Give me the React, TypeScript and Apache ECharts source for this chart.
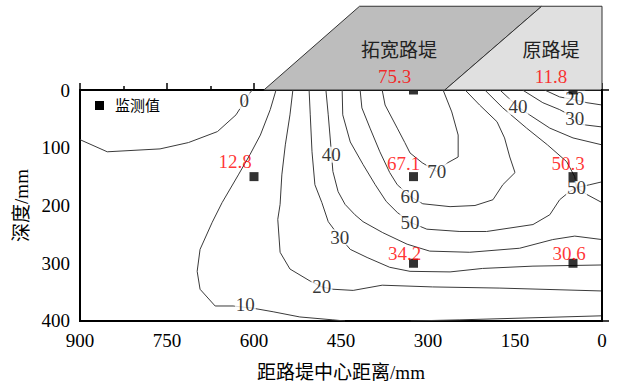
import React, { useEffect, useRef } from "react";
import * as echarts from "echarts";

// ---- data (x = distance from embankment centre /mm, y = depth /mm) ----
const pointX = [325, 50, 600, 325, 50, 325, 50];
const pointDepth = [0, 0, 150, 150, 150, 300, 300];
const pointValue = [75.3, 11.8, 12.8, 67.1, 50.3, 34.2, 30.6];

const contour0 = [[900, 86], [853, 107], [762, 102], [713, 91], [663, 72], [631, 43], [607, 5], [603, 0]];
const contour10a = [[562, 0], [572, 34], [589, 78], [607, 112], [627, 147], [655, 195], [672, 229], [693, 276], [698, 314], [693, 345], [667, 374], [636, 374], [601, 378], [567, 384], [521, 393], [464, 398], [443, 400]];
const contour10b = [[330, 400], [245, 398], [0, 391]];
const contour20a = [[533, 0], [538, 43], [546, 95], [552, 147], [555, 198], [559, 224], [555, 281], [538, 310], [503, 331], [483, 341], [464, 345], [429, 347], [379, 338], [292, 341], [176, 343], [0, 348]];
const contour20b = [[99, 0], [73, 12], [47, 17], [26, 22], [0, 26]];
const contour30a = [[505, 0], [503, 43], [500, 107], [495, 164], [483, 195], [472, 228], [452, 255], [434, 276], [405, 290], [366, 307], [331, 314], [262, 315], [206, 309], [119, 305], [0, 303]];
const contour30b = [[137, 0], [102, 22], [73, 34], [47, 48], [33, 60], [0, 64]];
const contour40a = [[476, 0], [472, 43], [467, 103], [464, 141], [455, 176], [443, 198], [426, 216], [412, 228], [378, 247], [336, 267], [297, 279], [228, 281], [142, 274], [85, 259], [47, 253], [0, 259]];
const contour40b = [[176, 0], [145, 29], [125, 43], [90, 66], [50, 83], [0, 95]];
const contour50a = [[448, 0], [447, 43], [434, 90], [412, 129], [391, 164], [372, 193], [353, 212], [331, 229], [302, 241], [245, 245], [199, 245], [119, 233], [90, 216], [73, 190], [56, 176], [44, 169], [21, 164], [0, 159]];
const contour50b = [[202, 0], [171, 31], [130, 66], [94, 95], [61, 124], [47, 150], [44, 169], [26, 181], [0, 195]];
const contour60 = [[417, 0], [414, 31], [400, 66], [383, 107], [366, 143], [353, 164], [331, 184], [309, 197], [262, 202], [219, 200], [188, 190], [171, 164], [150, 143], [159, 116], [168, 83], [181, 55], [211, 26], [236, 0]];
const contour70 = [[379, 0], [374, 26], [353, 66], [340, 91], [331, 109], [310, 126], [285, 141], [266, 126], [248, 116], [248, 78], [259, 38], [274, 0]];

const contourLabelText = ["0", "10", "20", "30", "40", "50", "60", "70", "40", "30", "20", "50"];
const contourLabelPos = [[617, 19], [615, 372], [483, 341], [452, 255], [467, 112], [331, 229], [331, 184], [285, 141], [145, 29], [47, 50], [47, 15], [44, 169]];

const embankmentNames = ["拓宽路堤", "原路堤"];
const widenedEmbankment = [[583, 0], [418, -145], [104, -145], [271, 0]];
const originalEmbankment = [[271, 0], [104, -145], [0, -145], [0, 0]];
const embankmentNamePos = [[350, -69], [88, -69]];

// ---- styling ----
const FONT = '"Liberation Serif", "Times New Roman", "Noto Sans CJK SC", serif';
const pointLabelOffsets = [[-19, -14], [-22, -14], [-19, -15], [-10, -13], [-5, -13], [-9, -10], [-4, -10]];
const embankmentFills = ["#bdbdbd", "#e0e0e0"];

const contours = [contour0, contour10a, contour10b, contour20a, contour20b, contour30a, contour30b, contour40a, contour40b, contour50a, contour50b, contour60, contour70];

export default function App() {
  const ref = useRef<HTMLDivElement>(null);
  useEffect(() => {
    if (!ref.current) return;
    const chart = echarts.init(ref.current, null, { renderer: "svg" });
    const embankments = [widenedEmbankment, originalEmbankment];
    const lineSeries = contours.map((c) => ({
      type: "line",
      data: c,
      showSymbol: false,
      symbol: "none",
      clip: true,
      lineStyle: { color: "#3a3a3a", width: 1 },
      z: 2,
      silent: true,
    }));
    chart.setOption({
      animation: false,
      backgroundColor: "#fff",
      grid: { left: 80, right: 17, top: 90, bottom: 65, show: true, borderColor: "#000", borderWidth: 2 },
      xAxis: {
        type: "value", min: 0, max: 900, interval: 150, inverse: true,
        axisLine: { show: true, lineStyle: { color: "#000", width: 2 } },
        axisTick: { show: true, inside: true, length: 7, lineStyle: { color: "#000", width: 1.5 } },
        minorTick: { show: true, splitNumber: 2, length: 4, lineStyle: { color: "#000", width: 1.5 } },
        axisLabel: { color: "#000", fontSize: 19, fontFamily: FONT, margin: 10 },
        splitLine: { show: false },
        name: "距路堤中心距离/mm", nameLocation: "middle", nameGap: 42,
        nameTextStyle: { color: "#000", fontSize: 19, fontFamily: FONT },
      },
      yAxis: {
        type: "value", min: 0, max: 400, interval: 100, inverse: true,
        axisLine: { show: true, lineStyle: { color: "#000", width: 2 } },
        axisTick: { show: true, inside: true, length: 7, lineStyle: { color: "#000", width: 1.5 } },
        minorTick: { show: true, splitNumber: 2, length: 4, lineStyle: { color: "#000", width: 1.5 } },
        axisLabel: { color: "#000", fontSize: 19, fontFamily: FONT, margin: 10 },
        splitLine: { show: false },
        name: "深度/mm", nameLocation: "middle", nameGap: 48, nameRotate: 90,
        nameTextStyle: { color: "#000", fontSize: 19, fontFamily: FONT },
      },
      graphic: [
        { type: "rect", shape: { x: 95, y: 101, width: 9, height: 9 }, style: { fill: "#000" } },
        { type: "text", x: 115, y: 105.5, style: { text: "监测值", fill: "#000", fontSize: 15, fontFamily: FONT, verticalAlign: "middle" } },
      ],
      series: [
        ...lineSeries,
        {
          type: "scatter",
          data: contourLabelPos.map((p, i) => [p[0], p[1], contourLabelText[i]]),
          symbolSize: 0,
          z: 3,
          silent: true,
          label: {
            show: true, position: "inside", formatter: (p: any) => p.value[2],
            color: "#000", fontSize: 19, fontFamily: FONT,
            backgroundColor: "#fff", padding: [0, 1], lineHeight: 16,
          },
        },
        {
          type: "scatter",
          name: "监测值",
          symbol: "rect",
          symbolSize: 9,
          itemStyle: { color: "#000" },
          z: 4,
          silent: true,
          data: pointX.map((x, i) => [x, pointDepth[i], pointValue[i]]),
        },
        {
          type: "custom",
          clip: false,
          z: 6,
          silent: true,
          data: [[0, 0], [0, 0]],
          renderItem: (params: any, api: any) => {
            const i = params.dataIndex;
            const pts = embankments[i].map((p) => api.coord(p));
            const c = api.coord(embankmentNamePos[i]);
            return {
              type: "group",
              children: [
                { type: "polygon", shape: { points: pts }, style: { fill: embankmentFills[i], stroke: "#333", lineWidth: 1 } },
                {
                  type: "text", x: c[0], y: c[1],
                  style: { text: embankmentNames[i], fill: "#222", fontSize: 19, fontFamily: FONT, align: "center", verticalAlign: "middle" },
                },
              ],
            };
          },
        },
        {
          type: "scatter",
          symbolSize: 0,
          z: 8,
          silent: true,
          data: pointX.map((x, i) => ({
            value: [x, pointDepth[i], pointValue[i]],
            label: { offset: pointLabelOffsets[i] },
          })),
          label: {
            show: true, position: "inside", formatter: (p: any) => p.value[2].toFixed(1),
            color: "#ff0000", fontSize: 19, fontFamily: FONT,
          },
        },
      ],
    });
    // right frame edge placed from the axis scale (x = 0)
    const x0 = chart.convertToPixel({ xAxisIndex: 0 }, 0) as number;
    const yTop = chart.convertToPixel({ yAxisIndex: 0 }, 0) as number;
    const yBot = chart.convertToPixel({ yAxisIndex: 0 }, 400) as number;
    chart.setOption({
      graphic: [
        { type: "rect", shape: { x: 95, y: 101, width: 9, height: 9 }, style: { fill: "#000" } },
        { type: "text", x: 115, y: 105.5, style: { text: "监测值", fill: "#000", fontSize: 15, fontFamily: FONT, verticalAlign: "middle" } },
        { type: "rect", z: 100, shape: { x: x0 + 1, y: yTop + 1, width: 20, height: yBot - yTop - 2 }, style: { fill: "#fff" } },
        { type: "line", z: 101, shape: { x1: x0, y1: yTop - 1, x2: x0, y2: yBot + 1 }, style: { stroke: "#000", lineWidth: 2 } },
      ],
    });
    return () => chart.dispose();
  }, []);
  return (
    <div
      ref={ref}
      style={{ position: "fixed", left: 0, top: 0, width: 619, height: 387, background: "#fff" }}
    />
  );
}
